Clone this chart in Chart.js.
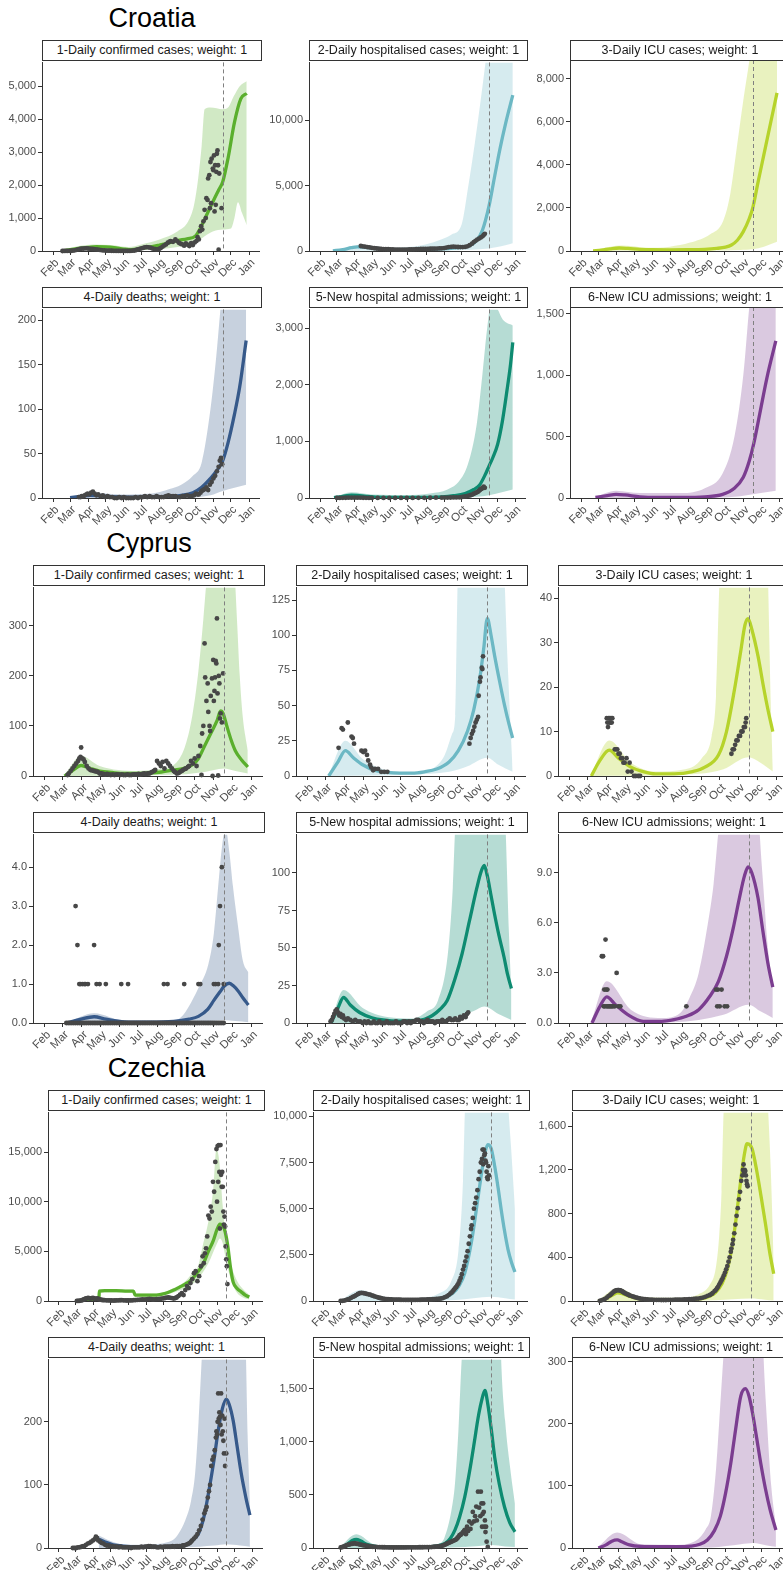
<!DOCTYPE html>
<html><head><meta charset="utf-8">
<script src="https://cdn.jsdelivr.net/npm/chart.js@4.4.1/dist/chart.umd.min.js"></script>
<style>
html,body{margin:0;padding:0;background:#fff;overflow:hidden;}
#root{position:relative;width:783px;height:1570px;overflow:hidden;font-family:'Liberation Sans',Arial,sans-serif;background:#fff;}
.title{position:absolute;font-size:27px;line-height:27px;color:#000;white-space:nowrap;transform:translateX(-50%);}
.strip{position:absolute;box-sizing:border-box;border:1.2px solid #333;background:#fff;font-size:12.5px;color:#1a1a1a;text-align:center;line-height:18.6px;white-space:nowrap;overflow:hidden;z-index:2;}
canvas{position:absolute;z-index:1;}
</style></head><body><div id="root"></div><script>
// ---------- shared axis values ----------
const MONTH_LABELS = ['Feb','Mar','Apr','May','Jun','Jul','Aug','Sep','Oct','Nov','Dec','Jan'];
const MONTH_DAYS = [31,60,91,121,152,182,213,244,274,305,335,366]; // day of 2020
const X_MIN = 12, X_MAX = 384;
const CUTOFF_DAY = 321;
const COUNTRY_NAMES = ['Croatia','Cyprus','Czechia'];
const STRIP_TITLES = ['1-Daily confirmed cases; weight: 1','2-Daily hospitalised cases; weight: 1','3-Daily ICU cases; weight: 1','4-Daily deaths; weight: 1','5-New hospital admissions; weight: 1','6-New ICU admissions; weight: 1'];

// ---------- Croatia ----------
const hrConfLine = [[51,20],[60,40],[75,80],[91,110],[105,130],[121,125],[135,105],[152,60],[165,40],[182,80],[200,130],[213,180],[230,250],[244,320],[260,370],[274,450],[283,700],[291,1000],[299,1300],[307,1600],[314,1850],[321,2100],[330,2810],[341,3900],[352,4620],[362,4780]];
const hrConfHi = [[51,40],[75,150],[100,200],[130,180],[160,120],[182,200],[213,350],[244,600],[262,900],[272,1400],[279,2200],[285,3200],[290,4300],[300,4350],[321,4300],[330,4350],[340,4700],[350,5000],[362,5150]];
const hrConfLo = [[51,0],[100,40],[160,20],[213,60],[244,120],[274,250],[290,450],[305,600],[321,650],[335,680],[341,1000],[347,1480],[354,1150],[362,780]];
const hrConfObs = [[47,0],[50,1],[53,2],[56,3],[59,5],[62,8],[65,12],[68,20],[71,35],[74,50],[77,60],[80,70],[83,75],[86,80],[89,80],[92,70],[95,65],[98,60],[101,55],[104,50],[107,42],[110,35],[113,28],[116,20],[119,16],[122,13],[125,10],[128,9],[131,8],[134,6],[137,5],[140,3],[143,3],[146,2],[149,1],[152,1],[155,1],[158,2],[161,3],[164,5],[167,10],[170,15],[173,30],[176,45],[179,65],[182,80],[185,95],[188,110],[191,120],[194,110],[197,100],[200,80],[203,65],[206,55],[209,50],[212,60],[215,90],[218,130],[221,170],[224,200],[227,250],[230,280],[232,300],[236,280],[240,350],[243,300],[246,250],[249,220],[252,200],[255,160],[258,230],[261,190],[264,150],[267,240],[270,180],[273,260],[276,300],[278,420],[280,350],[282,600],[284,750],[286,650],[288,900],[290,1250],[292,1000],[293,1600],[295,1550],[296,2200],[298,2300],[299,1300],[300,2700],[301,1450],[302,2800],[304,2500],[305,2450],[306,2900],[307,1200],[308,2600],[309,1400],[310,2400],[311,2950],[312,3050],[313,2600],[314,40],[315,2350],[319,1300]];

const hrHospLine = [[53,10],[70,100],[85,250],[95,320],[105,300],[120,230],[140,150],[160,100],[180,90],[200,100],[220,120],[240,160],[260,220],[275,290],[290,450],[300,800],[310,1600],[321,3400],[330,5500],[340,7800],[350,9800],[362,11900]];
const hrHospHi = [[53,50],[80,300],[100,450],[120,380],[150,260],[180,300],[212,500],[240,900],[257,1260],[274,2000],[285,4800],[297,8300],[314,14000],[330,20000],[362,25000]];
const hrHospLo = [[53,0],[150,20],[250,40],[290,100],[321,200],[340,350],[362,600]];
const hrHospObs = [[101,380],[104,360],[108,330],[112,300],[116,270],[120,240],[124,210],[128,190],[132,170],[136,155],[140,145],[144,140],[148,135],[152,130],[156,120],[160,110],[164,105],[168,100],[172,100],[176,105],[180,110],[184,120],[188,125],[192,130],[196,140],[200,150],[204,155],[208,160],[212,160],[216,165],[220,170],[224,175],[228,180],[232,185],[236,195],[240,205],[244,225],[248,260],[252,300],[256,320],[260,330],[264,320],[268,305],[272,300],[276,300],[280,310],[284,360],[288,440],[292,560],[295,680],[298,780],[301,870],[304,950],[307,1030],[310,1120],[312,1220],[314,1310]];

const hrIcuLine = [[51,10],[65,40],[80,100],[95,140],[110,120],[130,80],[150,60],[180,55],[210,60],[240,80],[260,120],[275,180],[285,280],[295,500],[305,900],[315,1500],[321,2000],[330,3200],[340,4500],[350,5800],[362,7350]];
const hrIcuHi = [[51,20],[80,200],[100,250],[130,180],[160,150],[181,200],[215,390],[249,780],[271,1400],[283,2650],[294,4800],[305,7000],[316,9000],[330,12000],[362,15000]];
const hrIcuLo = [[51,0],[150,10],[250,20],[300,50],[321,80],[340,200],[362,430]];
const hrIcuObs = [];

const hrDeathLine = [[60,0.5],[80,2],[95,3],[110,2.5],[130,1.5],[160,1],[200,1],[230,2],[250,3],[270,6],[285,12],[300,22],[310,30],[321,42],[330,62],[341,94],[350,125],[361,177]];
const hrDeathHi = [[60,1],[100,6],[150,4],[200,5],[230,10],[250,15],[270,25],[285,40],[300,100],[310,160],[317,212],[330,300],[361,500]];
const hrDeathLo = [[60,0],[250,0],[300,3],[321,8],[361,15]];
const hrDeathObs = [[75,1],[78,1],[80,2],[83,2],[85,3],[88,4],[90,5],[93,4],[96,6],[99,7],[102,5],[105,3],[108,4],[112,2],[116,3],[120,1],[124,2],[128,1],[132,1],[136,0],[140,0],[144,1],[148,0],[152,1],[156,0],[160,0],[164,0],[168,0],[172,1],[176,0],[180,1],[184,1],[188,2],[192,1],[196,2],[200,1],[204,1],[208,2],[212,1],[216,1],[220,1],[224,2],[228,3],[232,2],[236,2],[240,2],[244,1],[248,1],[252,2],[256,2],[260,3],[264,2],[268,2],[272,3],[275,5],[278,4],[280,4],[283,6],[285,8],[288,9],[290,10],[293,12],[296,9],[299,15],[302,18],[305,22],[308,25],[311,30],[314,35],[316,42],[318,45],[320,38]];

const hrNewHospLine = [[55,5],[70,30],[85,50],[95,45],[110,30],[130,15],[160,10],[200,10],[240,20],[260,40],[280,80],[295,150],[305,230],[315,420],[321,560],[328,720],[336,950],[344,1350],[352,1900],[358,2350],[362,2750]];
const hrNewHospHi = [[55,10],[85,100],[120,60],[180,50],[220,80],[250,150],[270,300],[285,600],[300,1300],[310,2200],[318,3000],[325,3450],[335,3350],[345,3150],[362,3050]];
const hrNewHospLo = [[55,0],[250,2],[300,20],[321,50],[362,150]];
const hrNewHospObs = [[60,1],[65,2],[70,3],[75,4],[80,5],[85,6],[90,6],[95,5],[100,5],[105,4],[110,3],[115,2],[120,2],[130,1],[140,1],[150,1],[160,1],[170,1],[180,2],[190,2],[200,3],[210,3],[220,4],[230,5],[240,6],[245,7],[250,8],[255,9],[260,10],[265,11],[270,12],[273,15],[276,20],[279,25],[282,30],[285,38],[288,45],[290,52],[292,60],[294,70],[296,80],[298,90],[300,100],[302,110],[303,120],[305,135],[306,150],[308,160],[309,170],[311,185],[312,200],[314,180]];

const hrNewIcuLine = [[55,5],[75,20],[90,30],[105,25],[130,10],[160,5],[200,5],[240,10],[270,30],[290,80],[305,170],[315,300],[323,450],[333,690],[345,980],[360,1280]];
const hrNewIcuHi = [[55,10],[90,60],[130,40],[200,40],[240,80],[270,200],[290,500],[305,1000],[316,1600],[340,2500],[360,3000]];
const hrNewIcuLo = [[55,0],[250,2],[300,15],[321,30],[360,60]];
const hrNewIcuObs = [];

const hrYMax = [5720,14400,8880,212,3333,1557];
const hrYTicks = [[0,1000,2000,3000,4000,5000],[0,5000,10000],[0,2000,4000,6000,8000],[0,50,100,150,200],[0,1000,2000,3000],[0,500,1000,1500]];
const hrYLabels = [['0','1,000','2,000','3,000','4,000','5,000'],['0','5,000','10,000'],['0','2,000','4,000','6,000','8,000'],['0','50','100','150','200'],['0','1,000','2,000','3,000'],['0','500','1,000','1,500']];

// ---------- Cyprus ----------
const cyConfLine = [[63,0],[75,10],[90,21],[105,15],[120,10],[140,7],[160,5],[180,5],[200,6],[220,8],[240,12],[255,15],[270,22],[280,35],[290,60],[300,85],[310,110],[316,130],[320,125],[326,100],[333,72],[340,50],[350,32],[360,18]];
const cyConfHi = [[63,2],[90,40],[120,20],[180,10],[220,15],[240,22],[258,58],[270,120],[280,210],[288,314],[295,420],[310,600],[325,600],[338,420],[343,300],[347,200],[352,117],[356,80],[360,51]];
const cyConfLo = [[63,0],[250,3],[290,8],[321,15],[340,10],[360,5]];
const cyConfObs = [[68,2],[70,5],[73,10],[76,15],[79,20],[82,25],[85,30],[87,35],[89,38],[90,57],[92,35],[94,33],[96,28],[99,20],[102,15],[105,12],[108,11],[111,10],[114,9],[117,8],[120,5],[123,5],[126,4],[129,3],[132,4],[135,3],[138,2],[141,3],[144,2],[147,3],[150,3],[153,2],[156,3],[159,2],[162,2],[165,3],[168,2],[171,2],[174,3],[177,3],[180,3],[183,4],[186,3],[189,4],[192,5],[195,4],[198,5],[200,5],[202,6],[205,8],[208,10],[210,12],[213,30],[216,25],[219,20],[222,28],[225,15],[228,30],[231,25],[234,20],[237,15],[240,10],[242,8],[245,5],[248,6],[250,8],[253,10],[255,12],[258,14],[260,15],[263,18],[265,20],[268,30],[271,25],[274,35],[277,20],[280,40],[283,60],[285,2],[286,85],[288,100],[290,265],[291,197],[293,150],[295,185],[296,128],[298,100],[299,90],[300,160],[302,195],[303,0],[304,232],[305,150],[306,170],[307,197],[308,230],[309,225],[310,315],[311,165],[312,1],[313,200],[314,185],[315,115],[316,125],[318,107],[320,205]];

const cyHospLine = [[65,0],[80,10],[92,18],[105,13],[120,8],[140,4],[160,2.5],[180,2],[200,2],[220,3],[240,5],[260,10],[275,18],[290,32],[300,47],[310,70],[316,90],[322,112],[328,100],[334,85],[342,67],[350,50],[357,37],[363,27]];
const cyHospHi = [[65,1],[92,25],[120,12],[160,4],[200,2.5],[232,5],[253,15],[265,30],[270,43],[274,140],[290,250],[320,300],[345,220],[350,140],[356,70],[363,4]];
const cyHospLo = [[65,0],[200,1],[260,3],[290,7],[322,13],[340,8],[363,3]];
const cyHospObs = [[81,20],[86,34],[88,33],[96,38],[102,28],[104,27],[106,23],[118,18],[121,17],[124,18],[127,15],[129,11],[132,8],[134,6],[137,4],[140,5],[145,5],[150,3],[155,3],[160,3],[293,23],[295,27],[297,30],[299,32],[301,35],[303,38],[305,40],[307,42],[308,57],[310,67],[311,70],[313,77],[314,76],[315,85]];

const cyIcuLine = [[66,0],[80,3.5],[95,5.8],[110,4],[130,2],[150,1],[170,0.5],[200,0.5],[230,1],[250,2],[272,4.7],[285,10],[298,19.5],[308,28],[315,34],[320,35.4],[326,33],[336,27],[345,20],[352,15],[360,10]];
const cyIcuHi = [[66,0.5],[95,8],[130,3],[170,1],[218,1.5],[245,4],[261,9],[268,18],[274,45],[300,80],[340,80],[350,60],[353,40],[357,15],[360,2]];
const cyIcuLo = [[66,0],[200,0.2],[280,1.5],[320,4.2],[340,3],[360,1]];
const cyIcuObs = [[91,13],[92,12],[93,11],[94,13],[95,12],[96,13],[97,12],[98,13],[99,12],[100,13],[104,6],[106,6],[108,6],[110,5],[112,5],[114,4],[116,4],[118,3],[120,3],[123,4],[125,1],[128,3],[131,1],[135,0],[138,0],[142,0],[145,0],[293,5],[295,6],[297,6],[299,7],[301,8],[303,8],[305,9],[307,9],[309,10],[311,10],[313,11],[315,11],[316,12],[317,13]];

const cyDeathLine = [[67,0],[90,0.1],[111,0.16],[130,0.1],[160,0.03],[200,0.02],[240,0.04],[265,0.1],[280,0.17],[295,0.35],[305,0.58],[315,0.8],[322,0.95],[330,1.02],[337,0.95],[344,0.83],[352,0.65],[361,0.46]];
const cyDeathHi = [[67,0.01],[111,0.25],[160,0.06],[240,0.06],[255,0.2],[264,0.41],[280,0.9],[296,1.5],[305,2.3],[312,3.5],[318,4.5],[324,5],[330,4.4],[336,3.5],[344,2.5],[352,1.6],[361,1.3]];
const cyDeathLo = [[67,0],[250,0.01],[300,0.05],[321,0.08],[340,0.05],[361,0.02]];
const cyDeathObs = [[81,3],[84,2],[111,2],[313,2],[315,3],[318,4],[87,1],[89,1],[92,1],[95,1],[97,1],[101,1],[115,1],[120,1],[130,1],[155,1],[166,1],[224,1],[230,1],[257,1],[280,1],[283,1],[305,1],[308,1],[312,1],[321,1],[66,0],[69,0],[72,0],[75,0],[78,0],[81,0],[84,0],[87,0],[90,0],[93,0],[96,0],[99,0],[102,0],[105,0],[108,0],[111,0],[114,0],[117,0],[120,0],[123,0],[126,0],[129,0],[132,0],[135,0],[138,0],[141,0],[144,0],[147,0],[150,0],[153,0],[156,0],[159,0],[162,0],[165,0],[168,0],[171,0],[174,0],[177,0],[180,0],[183,0],[186,0],[189,0],[192,0],[195,0],[198,0],[201,0],[204,0],[207,0],[210,0],[213,0],[216,0],[219,0],[222,0],[225,0],[228,0],[231,0],[234,0],[237,0],[240,0],[243,0],[246,0],[249,0],[252,0],[255,0],[258,0],[261,0],[264,0],[267,0],[270,0],[273,0],[276,0],[279,0],[282,0],[285,0],[288,0],[291,0],[294,0],[297,0],[300,0],[303,0],[306,0],[309,0],[312,0],[315,0],[318,0],[321,0]];

const cyNewHospLine = [[69,0],[80,10],[89,17],[100,12],[115,7],[135,3.5],[153,2],[180,1.2],[201,1.5],[220,2.5],[233,5],[245,9],[257,15],[270,30],[281,46],[293,68],[305,90],[312,101],[317,105],[322,98],[328,85],[333,74],[341,58],[349,44],[355,32],[361,23]];
const cyNewHospHi = [[69,1],[89,22],[120,10],[160,4],[201,3],[225,8],[242,15],[258,46],[266,90],[270,130],[300,200],[330,220],[345,200],[352,125],[357,60],[361,20]];
const cyNewHospLo = [[69,0],[200,0.5],[260,3],[300,8],[317,11],[340,6],[361,2]];
const cyNewHospObs = [[68,1],[70,2],[72,4],[74,6],[76,8],[78,9],[80,7],[82,5],[84,6],[86,4],[88,5],[90,3],[93,2],[96,3],[100,2],[104,1],[108,2],[112,1],[116,1],[120,0],[123,1],[126,0],[129,1],[132,0],[135,0],[138,1],[141,0],[144,0],[147,1],[150,0],[153,0],[156,0],[159,1],[162,0],[165,0],[168,0],[171,0],[174,1],[177,0],[180,0],[183,0],[186,1],[189,1],[192,0],[195,1],[198,0],[201,1],[204,1],[207,2],[210,2],[213,1],[216,1],[219,0],[222,1],[225,2],[228,1],[231,1],[234,1],[237,0],[240,1],[243,1],[246,1],[249,2],[252,1],[255,1],[258,2],[261,3],[264,2],[267,2],[270,3],[273,2],[276,2],[278,4],[281,3],[284,5],[287,4],[289,6],[291,7]];

const cyNewIcuLine = [[67,0],[80,1],[91,1.56],[105,1.1],[125,0.5],[150,0.1],[180,0.1],[200,0.2],[220,0.4],[240,0.8],[258,1.6],[272,2.5],[285,4],[296,5.7],[306,7.5],[314,8.8],[320,9.35],[326,9],[336,7.5],[344,5.5],[352,3.6],[360,2.15]];
const cyNewIcuHi = [[67,0.2],[91,2.5],[130,0.8],[180,0.3],[210,0.6],[225,1.5],[240,3],[255,6],[264,8.3],[272,11.5],[300,20],[330,20],[338,12],[345,8],[352,4.5],[360,2.2]];
const cyNewIcuLo = [[67,0],[200,0.05],[280,0.5],[321,1.1],[340,0.7],[360,0.3]];
const cyNewIcuObs = [[83,4],[85,4],[86,1],[87,2],[88,1],[89,5],[90,2],[91,1],[92,2],[93,1],[95,1],[97,1],[99,1],[101,1],[104,1],[107,3],[110,1],[113,1],[220,1],[268,2],[270,1],[271,2],[274,1],[277,2],[282,1],[286,1]];

const cyYMax = [377,134,42.4,4.84,125.7,11.3];
const cyYTicks = [[0,100,200,300],[0,25,50,75,100,125],[0,10,20,30,40],[0,1,2,3,4],[0,25,50,75,100],[0,3,6,9]];
const cyYLabels = [['0','100','200','300'],['0','25','50','75','100','125'],['0','10','20','30','40'],['0.0','1.0','2.0','3.0','4.0'],['0','25','50','75','100'],['0.0','3.0','6.0','9.0']];

// ---------- Czechia ----------
const czConfLine = [[60,0],[100,0],[101,1000],[110,1050],[130,1050],[150,1000],[160,1000],[163,600],[180,600],[200,600],[210,700],[220,850],[230,1100],[240,1400],[250,1700],[260,2100],[270,2800],[280,3600],[290,5000],[298,6000],[305,7200],[310,7750],[315,7600],[319,7000],[324,5400],[328,3500],[333,1900],[340,1250],[347,920],[354,600],[361,400]];
const czConfHi = [[60,50],[100,100],[101,1150],[160,1150],[163,750],[200,750],[230,1300],[250,2000],[262,2800],[272,3500],[280,5500],[290,8000],[298,11000],[304,15300],[309,14000],[315,9500],[321,6000],[330,3500],[340,2000],[350,1200],[361,600]];
const czConfLo = [[60,0],[100,0],[101,850],[160,850],[163,450],[200,450],[230,850],[250,1300],[270,2100],[290,3800],[305,5800],[310,6300],[315,5800],[321,4000],[330,2000],[340,800],[350,350],[361,150]];
const czConfObs = [[62,3],[64,10],[66,20],[68,40],[70,60],[72,100],[74,150],[76,200],[78,250],[80,280],[82,300],[84,270],[86,250],[88,280],[90,300],[92,250],[94,200],[96,230],[98,250],[100,180],[102,150],[104,120],[106,100],[108,90],[110,80],[113,70],[116,60],[119,55],[122,50],[125,40],[128,50],[131,60],[134,70],[137,75],[140,80],[143,70],[146,60],[149,50],[152,55],[155,60],[158,70],[161,80],[164,95],[167,110],[170,120],[173,140],[176,150],[179,130],[182,150],[185,180],[188,200],[191,190],[194,150],[197,170],[200,180],[203,190],[206,200],[209,240],[212,270],[215,300],[218,330],[221,350],[224,320],[227,290],[230,250],[233,300],[235,350],[238,500],[241,650],[244,800],[247,600],[250,1100],[253,1500],[256,1300],[259,1800],[262,2200],[265,2800],[268,3000],[271,2000],[274,2500],[277,3500],[280,4500],[282,3800],[284,4800],[286,5300],[288,6500],[290,8600],[292,8300],[294,9500],[296,9000],[298,12000],[300,11000],[302,14000],[304,15300],[305,10000],[306,15600],[307,12000],[308,15700],[309,13000],[310,7300],[311,15700],[312,12700],[313,11500],[314,13000],[315,11500],[316,9000],[317,7700],[318,8500],[319,7500],[320,5500],[321,4200],[322,3500],[323,1700]];

const czHospLine = [[58,0],[70,50],[85,250],[95,410],[105,380],[115,280],[130,150],[150,80],[170,60],[190,60],[210,70],[230,120],[245,250],[255,450],[264,770],[275,1500],[287,3260],[298,5580],[305,7100],[310,8000],[315,8470],[321,8250],[327,7300],[333,6100],[338,5000],[344,3800],[350,2800],[356,2100],[362,1570]];
const czHospHi = [[58,10],[95,600],[130,250],[170,150],[210,200],[230,400],[252,1100],[264,2700],[272,6500],[276,11000],[300,20000],[340,20000],[350,11000],[356,8000],[362,5000]];
const czHospLo = [[58,0],[200,10],[260,60],[290,150],[321,230],[345,150],[362,80]];
const czHospObs = [[60,5],[63,12],[66,25],[69,50],[72,90],[75,120],[78,170],[81,220],[84,260],[87,320],[90,380],[93,420],[96,440],[99,430],[102,410],[105,385],[108,360],[111,340],[114,300],[117,270],[120,240],[123,210],[126,180],[128,165],[130,150],[133,130],[136,118],[139,105],[142,97],[145,90],[148,84],[151,79],[154,75],[157,72],[160,70],[163,67],[166,64],[169,62],[172,60],[175,60],[178,60],[181,60],[184,60],[187,60],[190,60],[193,62],[196,65],[199,68],[202,71],[205,74],[208,78],[211,82],[214,87],[217,93],[220,100],[223,106],[226,112],[229,118],[232,125],[235,140],[238,170],[241,210],[244,250],[247,320],[250,400],[252,450],[254,520],[256,600],[258,680],[260,750],[262,850],[264,950],[266,1100],[268,1250],[270,1450],[272,1700],[274,1900],[276,2150],[278,2400],[280,2700],[282,3100],[284,3500],[286,3900],[287,4100],[289,4500],[291,5000],[293,5300],[295,5600],[297,6000],[299,6600],[301,7000],[303,7500],[305,7700],[306,8200],[307,7400],[308,8200],[309,7900],[310,8000],[311,7600],[312,7500],[313,7000],[314,6700],[315,6600],[316,7300],[317,6800]];

const czIcuLine = [[57,0],[70,20],[82,55],[91,75],[100,65],[110,45],[125,25],[145,12],[170,8],[200,8],[225,15],[240,25],[250,45],[260,80],[271,160],[280,290],[288,490],[295,750],[303,1100],[309,1330],[314,1440],[319,1430],[323,1390],[328,1270],[334,1094],[340,900],[346,700],[353,450],[360,250]];
const czIcuHi = [[57,5],[91,120],[130,40],[200,30],[230,60],[250,150],[260,300],[266,600],[270,1000],[274,1800],[300,3000],[340,3000],[350,1800],[355,1200],[360,350]];
const czIcuLo = [[57,0],[200,2],[260,8],[290,15],[321,22],[345,12],[360,5]];
const czIcuObs = [[60,2],[63,6],[66,12],[69,20],[72,30],[75,45],[78,55],[80,65],[82,75],[84,85],[86,90],[87,95],[89,98],[90,100],[92,100],[93,100],[95,97],[96,95],[98,90],[99,85],[101,80],[102,75],[104,70],[106,65],[108,60],[110,55],[112,50],[115,45],[118,40],[120,35],[123,31],[125,28],[128,24],[130,22],[134,19],[138,16],[142,14],[146,13],[150,12],[154,11],[158,10],[162,10],[166,9],[170,9],[174,9],[178,10],[182,10],[186,11],[190,12],[194,12],[198,13],[202,13],[206,14],[210,15],[214,16],[218,17],[222,19],[226,21],[230,22],[234,26],[238,31],[242,38],[246,47],[250,55],[253,65],[255,75],[258,90],[260,100],[262,115],[264,130],[266,150],[268,170],[270,190],[272,210],[274,235],[276,260],[278,290],[280,320],[282,360],[284,400],[286,450],[287,480],[289,520],[290,560],[292,620],[294,700],[296,780],[298,850],[300,930],[302,1000],[304,1100],[306,1150],[307,1200],[308,1250],[309,1180],[310,1200],[311,1190],[312,1150],[313,1100],[314,1070],[315,1050]];

const czDeathLine = [[100,14],[110,10],[125,5],[142,3],[170,2],[200,2],[230,3],[245,4],[255,7],[265,14],[273,23],[282,48],[290,86],[299,135],[307,186],[314,220],[321,236],[326,228],[333,202],[340,160],[347,118],[355,80],[362,52]];
const czDeathHi = [[100,20],[130,8],[160,5],[187,6],[227,12],[250,44],[260,75],[267,118],[273,200],[279,310],[300,700],[340,700],[352,400],[355,310],[358,180],[362,70]];
const czDeathLo = [[100,0],[250,1],[300,4],[321,6],[345,4],[362,2]];
const czDeathObs = [[55,0],[58,0],[61,0],[64,1],[67,1],[70,2],[73,3],[75,3],[78,5],[81,7],[84,8],[87,10],[90,12],[93,14],[95,18],[97,16],[99,12],[102,10],[105,8],[108,7],[111,5],[114,4],[117,4],[120,3],[123,3],[126,2],[129,2],[132,2],[135,1],[138,2],[141,1],[144,1],[147,1],[150,1],[153,1],[156,0],[159,1],[162,1],[165,1],[168,1],[171,1],[174,2],[177,1],[180,2],[183,2],[186,3],[189,3],[192,2],[195,2],[198,2],[201,1],[204,1],[207,2],[210,1],[213,2],[216,2],[219,2],[222,2],[225,2],[228,3],[231,2],[234,3],[237,3],[240,3],[243,3],[246,4],[248,4],[251,5],[254,6],[256,7],[258,8],[260,10],[262,12],[265,15],[268,18],[271,22],[274,28],[277,35],[280,45],[283,55],[285,60],[287,65],[289,80],[291,90],[293,100],[295,130],[297,140],[299,145],[301,155],[303,175],[304,185],[305,180],[306,200],[307,245],[308,205],[309,215],[310,208],[311,195],[312,245],[313,180],[314,210],[315,185],[316,170],[317,150],[318,205],[319,130],[321,150]];

const czNewHospLine = [[58,0],[70,30],[80,70],[87,81],[95,65],[105,35],[120,15],[140,8],[170,6],[200,8],[225,18],[241,44],[250,90],[258,168],[266,290],[275,480],[284,740],[292,1010],[298,1220],[304,1380],[310,1483],[315,1355],[321,1120],[327,853],[335,600],[344,386],[353,240],[362,152]];
const czNewHospHi = [[58,5],[87,130],[120,30],[170,15],[200,20],[230,40],[240,100],[252,355],[258,600],[264,1100],[270,1800],[300,3500],[330,3500],[338,1800],[345,1200],[355,700],[362,420]];
const czNewHospLo = [[58,0],[250,5],[300,20],[321,28],[345,15],[362,10]];
const czNewHospObs = [[60,5],[62,8],[64,10],[66,15],[68,20],[70,25],[72,30],[74,32],[76,35],[78,38],[80,40],[82,42],[84,45],[86,42],[88,40],[90,38],[92,35],[94,32],[96,30],[98,28],[100,25],[103,22],[106,20],[109,17],[112,15],[115,12],[118,11],[121,10],[124,9],[127,8],[130,8],[133,7],[136,7],[139,6],[142,6],[145,5],[148,5],[151,5],[154,5],[157,5],[160,5],[163,5],[166,5],[169,5],[172,5],[175,6],[178,6],[181,6],[184,6],[187,6],[190,6],[193,6],[196,7],[199,7],[202,7],[205,8],[208,8],[211,8],[214,9],[217,9],[220,10],[223,12],[226,13],[229,15],[232,17],[235,20],[238,25],[240,30],[242,35],[244,40],[246,45],[248,50],[250,55],[252,60],[254,65],[256,70],[258,75],[260,80],[262,90],[263,100],[265,110],[266,120],[268,125],[269,130],[271,140],[272,150],[274,160],[275,170],[277,130],[279,200],[281,160],[283,250],[285,180],[287,230],[289,340],[291,250],[293,300],[295,390],[296,260],[298,530],[300,380],[302,300],[303,530],[304,420],[305,200],[306,320],[307,420],[308,340],[309,200],[310,260],[311,150],[312,200],[313,60],[315,10]];

const czNewIcuLine = [[57,0],[70,5],[80,11],[89,13],[97,10],[110,5],[130,2.5],[160,2],[190,2],[214,3],[230,6],[243,13],[255,28],[265,51],[274,88],[283,137],[291,190],[300,245],[308,257],[314,245],[320,218],[327,178],[334,137],[342,96],[350,62],[360,29]];
const czNewIcuHi = [[57,2],[89,25],[130,6],[190,5],[220,10],[240,30],[249,51],[258,130],[266,245],[272,330],[300,600],[330,600],[338,330],[345,200],[352,100],[360,35]];
const czNewIcuLo = [[57,0],[250,1],[300,6],[321,8],[345,4],[360,2]];
const czNewIcuObs = [];

const czYMax = [18990,10214,1727,299,1776,308];
const czYTicks = [[0,5000,10000,15000],[0,2500,5000,7500,10000],[0,400,800,1200,1600],[0,100,200],[0,500,1000,1500],[0,100,200,300]];
const czYLabels = [['0','5,000','10,000','15,000'],['0','2,500','5,000','7,500','10,000'],['0','400','800','1,200','1,600'],['0','100','200'],['0','500','1,000','1,500'],['0','100','200','300']];

// ---------- styling / layout ----------
const LINE_COLORS = ['#5AAF2D','#6CB8C4','#B6D32B','#36598A','#0E8B71','#7B3D90'];
const FILL_COLORS = ['rgba(90,175,45,0.28)','rgba(108,184,196,0.28)','rgba(182,211,43,0.3)','rgba(53,89,138,0.28)','rgba(14,139,113,0.3)','rgba(123,61,144,0.28)'];
const POINT_COLOR = '#474747';
const AXIS_COLOR = '#333333';
const TICK_COLOR = '#4D4D4D';
const DASH_COLOR = '#808080';
const BLOCK_TOP = [0,525,1050];
const COL_LEFT = [[42,309,570],[33,296,558],[48,313,572]];
const COL_WIDTH = [[220,219,220],[232,232,232],[217,217,218]];
const PLOT_TOP = 60, ROW_STEP = 247, PLOT_H = 191, STRIP_H = 20, AXIS_W = 60, AXIS_H = 34, TITLE_TOP = 5;

const COUNTRIES = [
  {line:[hrConfLine,hrHospLine,hrIcuLine,hrDeathLine,hrNewHospLine,hrNewIcuLine],
   hi:[hrConfHi,hrHospHi,hrIcuHi,hrDeathHi,hrNewHospHi,hrNewIcuHi],
   lo:[hrConfLo,hrHospLo,hrIcuLo,hrDeathLo,hrNewHospLo,hrNewIcuLo],
   obs:[hrConfObs,hrHospObs,hrIcuObs,hrDeathObs,hrNewHospObs,hrNewIcuObs],
   ymax:hrYMax, yticks:hrYTicks, ylabels:hrYLabels},
  {line:[cyConfLine,cyHospLine,cyIcuLine,cyDeathLine,cyNewHospLine,cyNewIcuLine],
   hi:[cyConfHi,cyHospHi,cyIcuHi,cyDeathHi,cyNewHospHi,cyNewIcuHi],
   lo:[cyConfLo,cyHospLo,cyIcuLo,cyDeathLo,cyNewHospLo,cyNewIcuLo],
   obs:[cyConfObs,cyHospObs,cyIcuObs,cyDeathObs,cyNewHospObs,cyNewIcuObs],
   ymax:cyYMax, yticks:cyYTicks, ylabels:cyYLabels},
  {line:[czConfLine,czHospLine,czIcuLine,czDeathLine,czNewHospLine,czNewIcuLine],
   hi:[czConfHi,czHospHi,czIcuHi,czDeathHi,czNewHospHi,czNewIcuHi],
   lo:[czConfLo,czHospLo,czIcuLo,czDeathLo,czNewHospLo,czNewIcuLo],
   obs:[czConfObs,czHospObs,czIcuObs,czDeathObs,czNewHospObs,czNewIcuObs],
   ymax:czYMax, yticks:czYTicks, ylabels:czYLabels}
];

Chart.defaults.font.family = "'Liberation Sans', Arial, sans-serif";

const toXY = arr => arr.map(p => ({x:p[0], y:p[1]}));

const cutoffPlugin = {
  id:'cutoff',
  afterDatasetsDraw(chart){
    const {ctx, chartArea} = chart;
    const x = Math.round(chart.scales.x.getPixelForValue(CUTOFF_DAY)) + 0.5;
    ctx.save();
    ctx.strokeStyle = DASH_COLOR; ctx.lineWidth = 1; ctx.setLineDash([4,3]);
    ctx.beginPath(); ctx.moveTo(x, chartArea.top); ctx.lineTo(x, chartArea.bottom); ctx.stroke();
    ctx.restore();
  }
};

function makeChart(cv, c, k){
  const datasets = [
    {data:toXY(c.obs[k]), showLine:false, pointRadius:2.4, pointHoverRadius:0, pointBackgroundColor:POINT_COLOR, pointBorderWidth:0, clip:4},
    {data:toXY(c.line[k]), borderColor:LINE_COLORS[k], borderWidth:3.3, pointRadius:0, cubicInterpolationMode:'monotone', fill:false},
    {data:toXY(c.hi[k]), borderColor:'rgba(0,0,0,0)', borderWidth:1, pointRadius:0, cubicInterpolationMode:'monotone', backgroundColor:FILL_COLORS[k], fill:'+1'},
    {data:toXY(c.lo[k]), borderColor:'rgba(0,0,0,0)', borderWidth:1, pointRadius:0, cubicInterpolationMode:'monotone', fill:false}
  ];
  const axisGrid = {display:true, drawOnChartArea:false, drawTicks:true, tickLength:4, color:AXIS_COLOR, lineWidth:1};
  new Chart(cv, {
    type:'line',
    data:{datasets},
    options:{
      responsive:false, animation:false, events:[],
      layout:{padding:0},
      plugins:{legend:{display:false}, tooltip:{enabled:false}},
      scales:{
        x:{type:'linear', min:X_MIN, max:X_MAX,
          afterBuildTicks:s => { s.ticks = MONTH_DAYS.map(v => ({value:v})); },
          afterFit:s => { s.height = AXIS_H; s.paddingLeft = 0; s.paddingRight = 0; },
          ticks:{autoSkip:false, minRotation:45, maxRotation:45, padding:1, labelOffset:4, color:TICK_COLOR, font:{size:11.5},
            callback:(v,i) => MONTH_LABELS[i]},
          grid:axisGrid, border:{display:true, color:AXIS_COLOR, width:1}},
        y:{type:'linear', min:0, max:c.ymax[k],
          afterBuildTicks:s => { s.ticks = c.yticks[k].map(v => ({value:v})); },
          afterFit:s => { s.width = AXIS_W; s.paddingTop = 0; s.paddingBottom = 0; },
          ticks:{color:TICK_COLOR, font:{size:11}, padding:2, callback:(v,i) => c.ylabels[k][i]},
          grid:axisGrid, border:{display:true, color:AXIS_COLOR, width:1}}
      }
    },
    plugins:[cutoffPlugin]
  });
}

const root = document.getElementById('root');
COUNTRIES.forEach((c, ci) => {
  const bt = BLOCK_TOP[ci];
  const t = document.createElement('div');
  t.className = 'title'; t.textContent = COUNTRY_NAMES[ci];
  t.style.left = (COL_LEFT[ci][0] + COL_WIDTH[ci][0]/2) + 'px';
  t.style.top = (bt + TITLE_TOP) + 'px';
  root.appendChild(t);
  for (let k = 0; k < 6; k++){
    const r = Math.floor(k/3), col = k % 3;
    const left = COL_LEFT[ci][col], w = COL_WIDTH[ci][col];
    const top = bt + PLOT_TOP + ROW_STEP*r;
    const s = document.createElement('div');
    s.className = 'strip'; s.textContent = STRIP_TITLES[k];
    s.style.left = left + 'px'; s.style.top = (top - STRIP_H) + 'px';
    s.style.width = w + 'px'; s.style.height = (STRIP_H + 1) + 'px';
    root.appendChild(s);
    const cv = document.createElement('canvas');
    cv.width = w + AXIS_W; cv.height = PLOT_H + AXIS_H;
    cv.style.left = (left - AXIS_W) + 'px'; cv.style.top = top + 'px';
    root.appendChild(cv);
    makeChart(cv, c, k);
  }
});
</script></body></html>
